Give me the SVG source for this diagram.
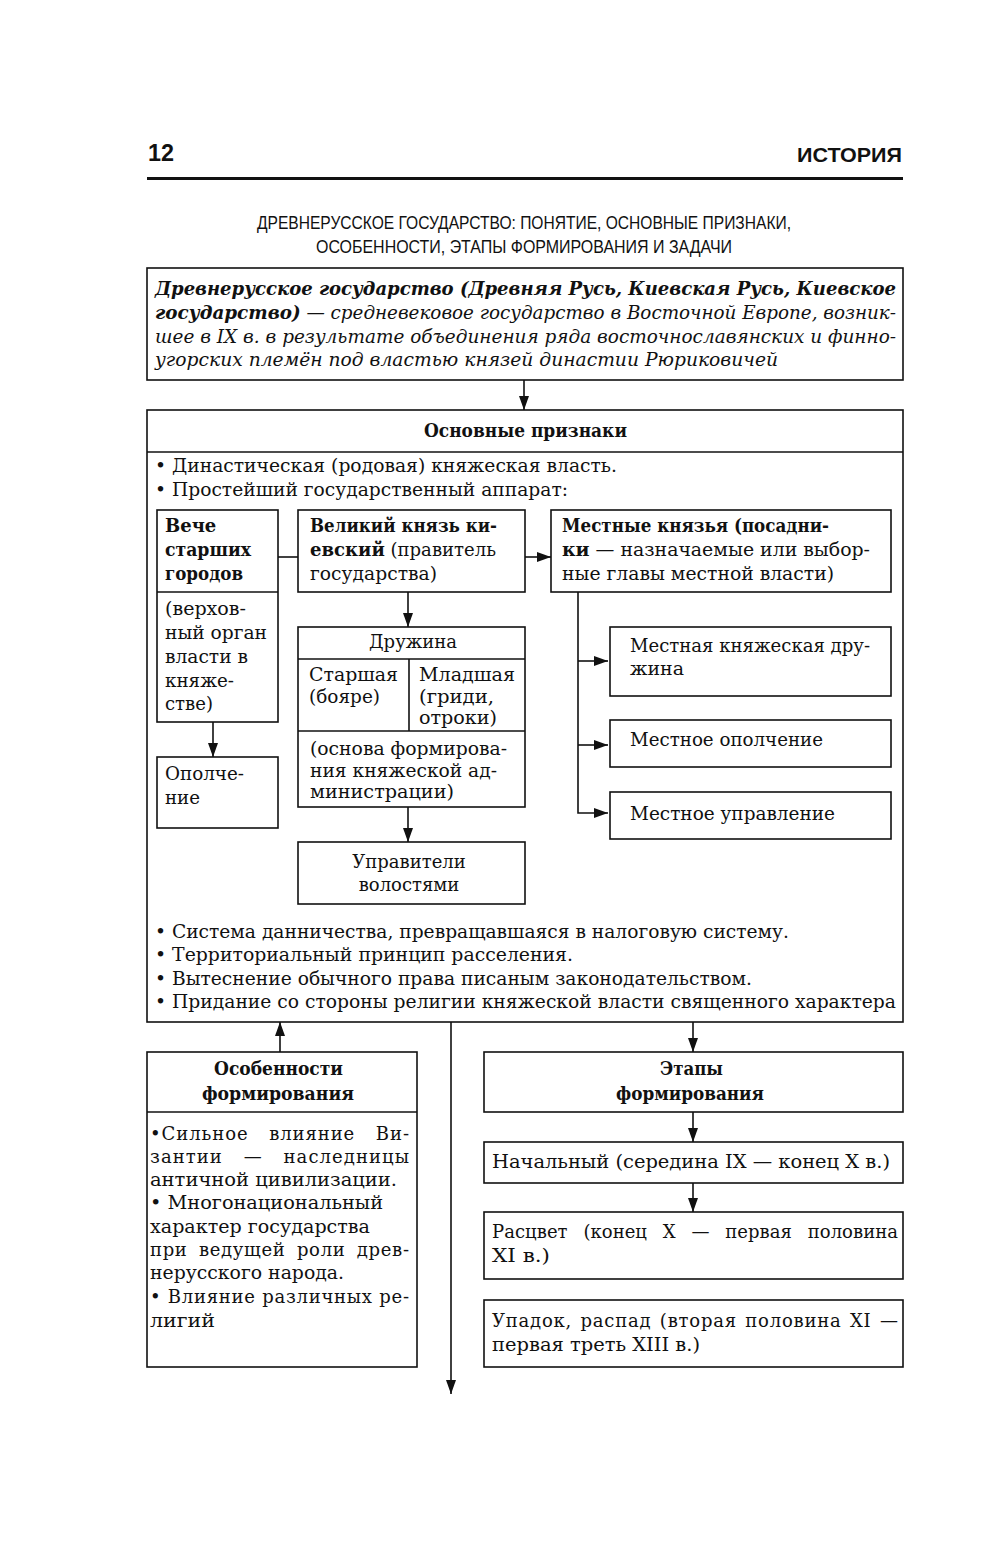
<svg xmlns="http://www.w3.org/2000/svg" width="1000" height="1552" viewBox="0 0 1000 1552">
<defs>
<marker id="ah" markerUnits="userSpaceOnUse" markerWidth="14" markerHeight="10" refX="14" refY="5" orient="auto"><path d="M0,0 L14,5 L0,10 z" fill="#111"/></marker>
<style>
.box{fill:#fff;stroke:#111;stroke-width:1.6}
.ln{fill:none;stroke:#111;stroke-width:1.6}
.t{font-family:"DejaVu Serif","Liberation Serif",serif;font-size:18px;fill:#111}
.b{font-weight:bold}
.i{font-style:italic}
.s{font-family:"Liberation Sans",Arial,sans-serif;fill:#111}
</style>
</defs>
<rect width="1000" height="1552" fill="#fff"/>

<g id="header">
<text class="s" x="148" y="161" font-size="23" font-weight="bold" textLength="26" lengthAdjust="spacingAndGlyphs">12</text>
<text class="s" x="797" y="162" font-size="20" font-weight="bold" textLength="105" lengthAdjust="spacingAndGlyphs">ИСТОРИЯ</text>
<line x1="147" y1="178.5" x2="903" y2="178.5" stroke="#111" stroke-width="3"/>
<text class="s" x="257" y="229" font-size="18" textLength="534" lengthAdjust="spacingAndGlyphs">ДРЕВНЕРУССКОЕ ГОСУДАРСТВО: ПОНЯТИЕ, ОСНОВНЫЕ ПРИЗНАКИ,</text>
<text class="s" x="316" y="253" font-size="18" textLength="416" lengthAdjust="spacingAndGlyphs">ОСОБЕННОСТИ, ЭТАПЫ ФОРМИРОВАНИЯ И ЗАДАЧИ</text>
</g>

<g id="definition">
<rect class="box" x="147" y="268" width="756" height="112"/>
<text class="t i b" x="155" y="295" textLength="741" lengthAdjust="spacingAndGlyphs">Древнерусское государство (Древняя Русь, Киевская Русь, Киевское</text>
<text class="t i" x="155" y="319" textLength="741" lengthAdjust="spacingAndGlyphs"><tspan class="b">государство)</tspan> — средневековое государство в Восточной Европе, возник-</text>
<text class="t i" x="155" y="343" textLength="741" lengthAdjust="spacingAndGlyphs">шее в IX в. в результате объединения ряда восточнославянских и финно-</text>
<text class="t i" x="155" y="366" textLength="623" lengthAdjust="spacingAndGlyphs">угорских племён под властью князей династии Рюриковичей</text>
</g>

<g id="main">
<rect class="box" x="147" y="410" width="756" height="612"/>
<line class="ln" x1="147" y1="452" x2="903" y2="452"/>
<text class="t b" x="424" y="437" textLength="203" lengthAdjust="spacingAndGlyphs">Основные признаки</text>
<text class="t" x="155" y="472" textLength="462" lengthAdjust="spacingAndGlyphs">• Династическая (родовая) княжеская власть.</text>
<text class="t" x="155" y="496" textLength="413" lengthAdjust="spacingAndGlyphs">• Простейший государственный аппарат:</text>
<text class="t" x="155" y="938" textLength="634" lengthAdjust="spacingAndGlyphs">• Система данничества, превращавшаяся в налоговую систему.</text>
<text class="t" x="155" y="961" textLength="418" lengthAdjust="spacingAndGlyphs">• Территориальный принцип расселения.</text>
<text class="t" x="155" y="985" textLength="597" lengthAdjust="spacingAndGlyphs">• Вытеснение обычного права писаным законодательством.</text>
<text class="t" x="155" y="1008" textLength="741" lengthAdjust="spacingAndGlyphs">• Придание со стороны религии княжеской власти священного характера</text>
</g>

<g id="veche">
<rect class="box" x="157" y="510" width="121" height="212"/>
<line class="ln" x1="157" y1="592" x2="278" y2="592"/>
<text class="t b" x="165" y="532">Вече</text>
<text class="t b" x="165" y="556" textLength="86" lengthAdjust="spacingAndGlyphs">старших</text>
<text class="t b" x="165" y="580" textLength="78" lengthAdjust="spacingAndGlyphs">городов</text>
<text class="t" x="165" y="615" textLength="81" lengthAdjust="spacingAndGlyphs">(верхов-</text>
<text class="t" x="165" y="639" textLength="102" lengthAdjust="spacingAndGlyphs">ный орган</text>
<text class="t" x="165" y="663" textLength="83" lengthAdjust="spacingAndGlyphs">власти в</text>
<text class="t" x="165" y="687" textLength="69" lengthAdjust="spacingAndGlyphs">княже-</text>
<text class="t" x="165" y="710" textLength="48" lengthAdjust="spacingAndGlyphs">стве)</text>
</g>

<g id="opolchenie">
<rect class="box" x="157" y="757" width="121" height="71"/>
<text class="t" x="165" y="780" textLength="79" lengthAdjust="spacingAndGlyphs">Ополче-</text>
<text class="t" x="165" y="804" textLength="35" lengthAdjust="spacingAndGlyphs">ние</text>
</g>

<g id="velikiy">
<rect class="box" x="298" y="510" width="227" height="82"/>
<text class="t b" x="310" y="532" textLength="187" lengthAdjust="spacingAndGlyphs">Великий князь ки-</text>
<text class="t" x="310" y="556" textLength="186" lengthAdjust="spacingAndGlyphs"><tspan class="b">евский</tspan> (правитель</text>
<text class="t" x="310" y="580" textLength="127" lengthAdjust="spacingAndGlyphs">государства)</text>
</g>

<g id="mestnye">
<rect class="box" x="551" y="510" width="340" height="82"/>
<text class="t b" x="562" y="532" textLength="267" lengthAdjust="spacingAndGlyphs">Местные князья (посадни-</text>
<text class="t" x="562" y="556" textLength="308" lengthAdjust="spacingAndGlyphs"><tspan class="b">ки</tspan> — назначаемые или выбор-</text>
<text class="t" x="562" y="580" textLength="272" lengthAdjust="spacingAndGlyphs">ные главы местной власти)</text>
</g>

<g id="druzhina">
<rect class="box" x="298" y="627" width="227" height="180"/>
<line class="ln" x1="298" y1="659" x2="525" y2="659"/>
<line class="ln" x1="409" y1="659" x2="409" y2="731"/>
<line class="ln" x1="298" y1="731" x2="525" y2="731"/>
<text class="t" x="413" y="648" text-anchor="middle">Дружина</text>
<text class="t" x="309" y="681" textLength="89" lengthAdjust="spacingAndGlyphs">Старшая</text>
<text class="t" x="309" y="703" textLength="71" lengthAdjust="spacingAndGlyphs">(бояре)</text>
<text class="t" x="419" y="681" textLength="96" lengthAdjust="spacingAndGlyphs">Младшая</text>
<text class="t" x="419" y="703" textLength="75" lengthAdjust="spacingAndGlyphs">(гриди,</text>
<text class="t" x="419" y="724" textLength="78" lengthAdjust="spacingAndGlyphs">отроки)</text>
<text class="t" x="310" y="755" textLength="197" lengthAdjust="spacingAndGlyphs">(основа формирова-</text>
<text class="t" x="310" y="777" textLength="187" lengthAdjust="spacingAndGlyphs">ния княжеской ад-</text>
<text class="t" x="310" y="798" textLength="144" lengthAdjust="spacingAndGlyphs">министрации)</text>
</g>

<g id="upraviteli">
<rect class="box" x="298" y="842" width="227" height="62"/>
<text class="t" x="409" y="868" text-anchor="middle">Управители</text>
<text class="t" x="409" y="891" text-anchor="middle">волостями</text>
</g>

<g id="m_druzhina">
<rect class="box" x="610" y="627" width="281" height="69"/>
<text class="t" x="630" y="652" textLength="240" lengthAdjust="spacingAndGlyphs">Местная княжеская дру-</text>
<text class="t" x="630" y="675" textLength="54" lengthAdjust="spacingAndGlyphs">жина</text>
</g>
<g id="m_opolchenie">
<rect class="box" x="610" y="720" width="281" height="47"/>
<text class="t" x="630" y="746" textLength="193" lengthAdjust="spacingAndGlyphs">Местное ополчение</text>
</g>
<g id="m_upravlenie">
<rect class="box" x="610" y="792" width="281" height="47"/>
<text class="t" x="630" y="820" textLength="205" lengthAdjust="spacingAndGlyphs">Местное управление</text>
</g>

<g id="osobennosti">
<rect class="box" x="147" y="1052" width="270" height="315"/>
<line class="ln" x1="147" y1="1112" x2="417" y2="1112"/>
<text class="t b" x="214" y="1075" textLength="129" lengthAdjust="spacingAndGlyphs">Особенности</text>
<text class="t b" x="202" y="1100" textLength="152" lengthAdjust="spacingAndGlyphs">формирования</text>
<text class="t" x="150" y="1140" word-spacing="14" textLength="259" lengthAdjust="spacing">•Сильное влияние Ви-</text>
<text class="t" x="150" y="1163" word-spacing="14" textLength="259" lengthAdjust="spacing">зантии — наследницы</text>
<text class="t" x="150" y="1186" textLength="247" lengthAdjust="spacingAndGlyphs">античной цивилизации.</text>
<text class="t" x="150" y="1209" textLength="233" lengthAdjust="spacingAndGlyphs">• Многонациональный</text>
<text class="t" x="150" y="1233" textLength="220" lengthAdjust="spacingAndGlyphs">характер государства</text>
<text class="t" x="150" y="1256" word-spacing="5" textLength="259" lengthAdjust="spacing">при ведущей роли древ-</text>
<text class="t" x="150" y="1279" textLength="194" lengthAdjust="spacingAndGlyphs">нерусского народа.</text>
<text class="t" x="150" y="1303" textLength="259" lengthAdjust="spacing">• Влияние различных ре-</text>
<text class="t" x="150" y="1327" textLength="65" lengthAdjust="spacingAndGlyphs">лигий</text>
</g>

<g id="etapy">
<rect class="box" x="484" y="1052" width="419" height="60"/>
<text class="t b" x="660" y="1075" textLength="63" lengthAdjust="spacingAndGlyphs">Этапы</text>
<text class="t b" x="616" y="1100" textLength="148" lengthAdjust="spacingAndGlyphs">формирования</text>
</g>
<g id="nachalny">
<rect class="box" x="484" y="1142" width="419" height="41"/>
<text class="t" x="492" y="1168" textLength="398" lengthAdjust="spacingAndGlyphs">Начальный (середина IX — конец X в.)</text>
</g>
<g id="rascvet">
<rect class="box" x="484" y="1212" width="419" height="67"/>
<text class="t" x="492" y="1238" word-spacing="10" textLength="406" lengthAdjust="spacing">Расцвет (конец X — первая половина</text>
<text class="t" x="492" y="1262" textLength="58" lengthAdjust="spacingAndGlyphs">XI в.)</text>
</g>
<g id="upadok">
<rect class="box" x="484" y="1300" width="419" height="67"/>
<text class="t" x="492" y="1327" word-spacing="2" textLength="406" lengthAdjust="spacing">Упадок, распад (вторая половина XI —</text>
<text class="t" x="492" y="1351" textLength="208" lengthAdjust="spacingAndGlyphs">первая треть XIII в.)</text>
</g>

<g id="connectors">
<line class="ln" x1="524" y1="380" x2="524" y2="410" marker-end="url(#ah)"/>
<line class="ln" x1="278" y1="557" x2="298" y2="557"/>
<line class="ln" x1="525" y1="557" x2="551" y2="557" marker-end="url(#ah)"/>
<line class="ln" x1="408" y1="592" x2="408" y2="627" marker-end="url(#ah)"/>
<line class="ln" x1="408" y1="807" x2="408" y2="842" marker-end="url(#ah)"/>
<line class="ln" x1="213" y1="722" x2="213" y2="757" marker-end="url(#ah)"/>
<polyline class="ln" points="578,592 578,813 608,813" marker-end="url(#ah)"/>
<line class="ln" x1="578" y1="661" x2="608" y2="661" marker-end="url(#ah)"/>
<line class="ln" x1="578" y1="745" x2="608" y2="745" marker-end="url(#ah)"/>
<line class="ln" x1="280" y1="1052" x2="280" y2="1022" marker-end="url(#ah)"/>
<line class="ln" x1="451" y1="1022" x2="451" y2="1394" marker-end="url(#ah)"/>
<line class="ln" x1="693" y1="1022" x2="693" y2="1052" marker-end="url(#ah)"/>
<line class="ln" x1="693" y1="1112" x2="693" y2="1142" marker-end="url(#ah)"/>
<line class="ln" x1="693" y1="1183" x2="693" y2="1212" marker-end="url(#ah)"/>
</g>
</svg>
